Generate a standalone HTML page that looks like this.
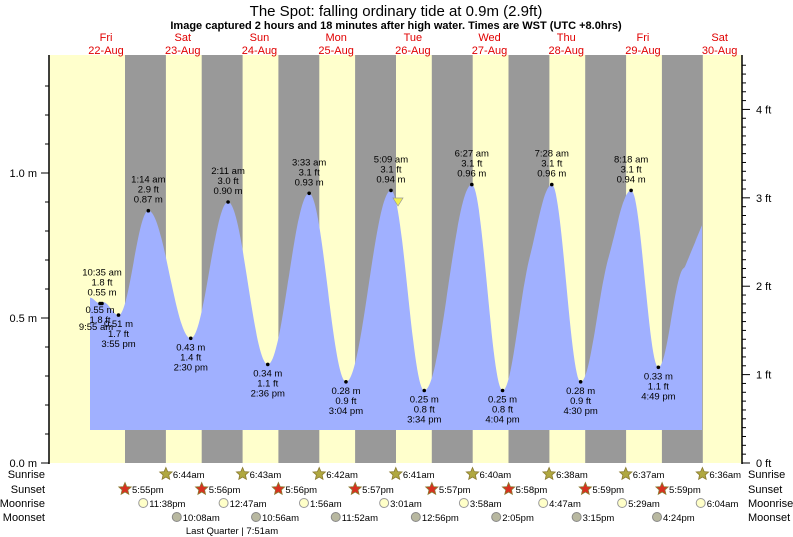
<!DOCTYPE html>
<html><head><meta charset="utf-8"><style>
body{margin:0;background:#fff;}
svg{display:block;font-family:"Liberation Sans",sans-serif;}
</style></head><body>
<svg id="s" width="793" height="537" viewBox="0 0 793 537" xmlns="http://www.w3.org/2000/svg">
<rect x="0" y="0" width="793" height="537" fill="#fff"/>
<rect x="49" y="55" width="693" height="408" fill="#ffffcc"/>
<g id="bands" fill="#999999"></g>
<path id="tide" fill="#a0b0ff" d=""/>
<g id="lab" font-size="9.5" fill="#000" text-anchor="middle"></g>
<polygon points="393,198 403,198 398,206" fill="#f0f050" stroke="#999" stroke-width="0.7"/>
<line x1="49" y1="55" x2="49" y2="464" stroke="#000" stroke-width="1.5"/>
<line x1="742" y1="55" x2="742" y2="464" stroke="#000" stroke-width="1.5"/>
<g id="ax" font-size="11" fill="#000"></g>
<text x="396" y="16" font-size="15" text-anchor="middle">The Spot: falling  ordinary tide at 0.9m (2.9ft)</text>
<text x="396" y="29" font-size="11" font-weight="bold" text-anchor="middle">Image captured 2 hours and 18 minutes after high water. Times are WST (UTC +8.0hrs)</text>
<g id="days" font-size="11" fill="#e00000" text-anchor="middle"></g>
<g font-size="11" fill="#000">
<text x="45" y="478" text-anchor="end">Sunrise</text>
<text x="45" y="493" text-anchor="end">Sunset</text>
<text x="45" y="507" text-anchor="end">Moonrise</text>
<text x="45" y="521" text-anchor="end">Moonset</text>
<text x="748" y="478">Sunrise</text>
<text x="748" y="493">Sunset</text>
<text x="748" y="507">Moonrise</text>
<text x="748" y="521">Moonset</text>
<text x="232" y="534" font-size="9.5" text-anchor="middle">Last Quarter | 7:51am</text>
</g>
<g id="bot" font-size="9.5" fill="#000"></g>
</svg>
<script>
var NS="http://www.w3.org/2000/svg";
function X(d,h){return 67.7+76.7*(d+h/24);}
function Y(m){return 463-290*m;}
function el(p,t,a,txt){var e=document.createElementNS(NS,t);for(var k in a)e.setAttribute(k,a[k]);if(txt!=null)e.textContent=txt;document.getElementById(p).appendChild(e);return e;}
for(var d=0;d<8;d++){var a=125+76.7*d,b=165.9+76.7*d;el("bands","rect",{x:a,y:55,width:b-a,height:408});}
var days=[["Fri","22-Aug"],["Sat","23-Aug"],["Sun","24-Aug"],["Mon","25-Aug"],["Tue","26-Aug"],["Wed","27-Aug"],["Thu","28-Aug"],["Fri","29-Aug"],["Sat","30-Aug"]];
days.forEach(function(v,i){var x=X(i,12);el("days","text",{x:x,y:41},v[0]);el("days","text",{x:x,y:54},v[1]);});
for(var i=0;i<=13;i++){var y=Y(i*0.1);var L=(i%5==0)?8:4;el("ax","line",{x1:49-L,y1:y,x2:49,y2:y,stroke:"#000"});}
[["0.0 m",0],["0.5 m",0.5],["1.0 m",1]].forEach(function(v){el("ax","text",{x:37,y:Y(v[1])+4,"text-anchor":"end"},v[0]);});
for(var i=0;i<=45;i++){var y=Y(i*0.03048);var L=(i%10==0)?8:4;el("ax","line",{x1:742,y1:y,x2:742+L,y2:y,stroke:"#000"});}
for(var f=0;f<=4;f++)el("ax","text",{x:756,y:Y(f*0.3048)+4},f+" ft");
var ex=[[90,0.57],[100,0.55],[103,0.555],[X(0,15.92),0.51],[X(1,1.23),0.87],[X(1,14.5),0.43],[X(2,2.18),0.90],[X(2,14.6),0.34],[X(3,3.55),0.93],[X(3,15.07),0.28],[X(4,5.15),0.94],[X(4,15.57),0.25],[X(5,6.45),0.96],[X(5,16.07),0.25],[X(6,7.47),0.96],[X(6,16.5),0.28],[X(7,8.3),0.94],[X(7,16.82),0.33],[702,0.82]];
var pts=[];
for(var k=0;k<ex.length-1;k++){var p=ex[k],q=ex[k+1];var n=Math.max(2,Math.round(q[0]-p[0]));
 for(var j=0;j<n;j++){var t=j/n;var c=(1-Math.cos(Math.PI*t))/2;
  if(q[1]>p[1]&&k>=13){c=0.6*c+0.4*(t<0.55?(1-Math.cos(Math.PI*t/0.55))/2*0.75:0.75+0.25*(1-Math.cos(Math.PI*(t-0.55)/0.45))/2);}
  if(k==17){c=t<0.6?0.7*(1-Math.cos(Math.PI*t/0.6))/2:0.7+0.3*((t-0.6)/0.4);}
  pts.push([p[0]+(q[0]-p[0])*t,Y(p[1]+(q[1]-p[1])*c)]);}}
pts.push([702,Y(0.82)]);
var dd="M90,430 ";pts.forEach(function(p){dd+="L"+p[0].toFixed(1)+","+p[1].toFixed(1)+" ";});dd+="L702,430 Z";
document.getElementById("tide").setAttribute("d",dd);
function hi(x,m,ft,t){var y=Y(m);el("lab","circle",{cx:x,cy:y,r:1.8});el("lab","text",{x:x,y:y-28},t);el("lab","text",{x:x,y:y-18},ft+" ft");el("lab","text",{x:x,y:y-8},m.toFixed(2)+" m");}
function lo(x,m,ft,t){var y=Y(m);el("lab","circle",{cx:x,cy:y,r:1.8});el("lab","text",{x:x,y:y+12},m.toFixed(2)+" m");el("lab","text",{x:x,y:y+22},ft+" ft");el("lab","text",{x:x,y:y+32},t);}
hi(102,0.55,"1.8","10:35 am");
el("lab","circle",{cx:100,cy:Y(0.55),r:1.8});
el("lab","text",{x:100,y:313},"0.55 m");el("lab","text",{x:100,y:323},"1.8 ft");el("lab","text",{x:96,y:330},"9:55 am");
lo(118.5,0.51,"1.7","3:55 pm");
hi(X(1,1.23),0.87,"2.9","1:14 am");lo(X(1,14.5),0.43,"1.4","2:30 pm");
hi(X(2,2.18),0.90,"3.0","2:11 am");lo(X(2,14.6),0.34,"1.1","2:36 pm");
hi(X(3,3.55),0.93,"3.1","3:33 am");lo(X(3,15.07),0.28,"0.9","3:04 pm");
hi(X(4,5.15),0.94,"3.1","5:09 am");lo(X(4,15.57),0.25,"0.8","3:34 pm");
hi(X(5,6.45),0.96,"3.1","6:27 am");lo(X(5,16.07),0.25,"0.8","4:04 pm");
hi(X(6,7.47),0.96,"3.1","7:28 am");lo(X(6,16.5),0.28,"0.9","4:30 pm");
hi(X(7,8.3),0.94,"3.1","8:18 am");lo(X(7,16.82),0.33,"1.1","4:49 pm");
function star(x,y,col){var s="";for(var i=0;i<10;i++){var r=i%2?3:6.5;var a=-Math.PI/2+i*Math.PI/5;s+=(x+r*Math.cos(a)).toFixed(1)+","+(y+r*Math.sin(a)).toFixed(1)+" ";}el("bot","polygon",{points:s,fill:col,stroke:"#8a7a30","stroke-width":0.8});}
var sr=[[1,6.73,"6:44am"],[2,6.72,"6:43am"],[3,6.7,"6:42am"],[4,6.68,"6:41am"],[5,6.67,"6:40am"],[6,6.63,"6:38am"],[7,6.62,"6:37am"],[8,6.6,"6:36am"]];
sr.forEach(function(v){var x=X(v[0],v[1]);star(x,474,"#b0a840");el("bot","text",{x:x+7,y:478},v[2]);});
var ss=[[0,17.92,"5:55pm"],[1,17.93,"5:56pm"],[2,17.93,"5:56pm"],[3,17.95,"5:57pm"],[4,17.95,"5:57pm"],[5,17.97,"5:58pm"],[6,17.98,"5:59pm"],[7,17.98,"5:59pm"]];
ss.forEach(function(v){var x=X(v[0],v[1]);star(x,489,"#d83020");el("bot","text",{x:x+7,y:493},v[2]);});
var mr=[[0,23.63,"11:38pm"],[2,0.78,"12:47am"],[3,1.93,"1:56am"],[4,3.02,"3:01am"],[5,3.97,"3:58am"],[6,4.78,"4:47am"],[7,5.48,"5:29am"],[8,6.07,"6:04am"]];
mr.forEach(function(v){var x=X(v[0],v[1]);el("bot","circle",{cx:x,cy:503,r:4.5,fill:"#ffffc8",stroke:"#999"});el("bot","text",{x:x+6,y:507},v[2]);});
var ms=[[1,10.13,"10:08am"],[2,10.93,"10:56am"],[3,11.87,"11:52am"],[4,12.93,"12:56pm"],[5,14.08,"2:05pm"],[6,15.25,"3:15pm"],[7,16.4,"4:24pm"]];
ms.forEach(function(v){var x=X(v[0],v[1]);el("bot","circle",{cx:x,cy:517,r:4.5,fill:"#b8b8a0",stroke:"#888"});el("bot","text",{x:x+6,y:521},v[2]);});
</script>
</body></html>
